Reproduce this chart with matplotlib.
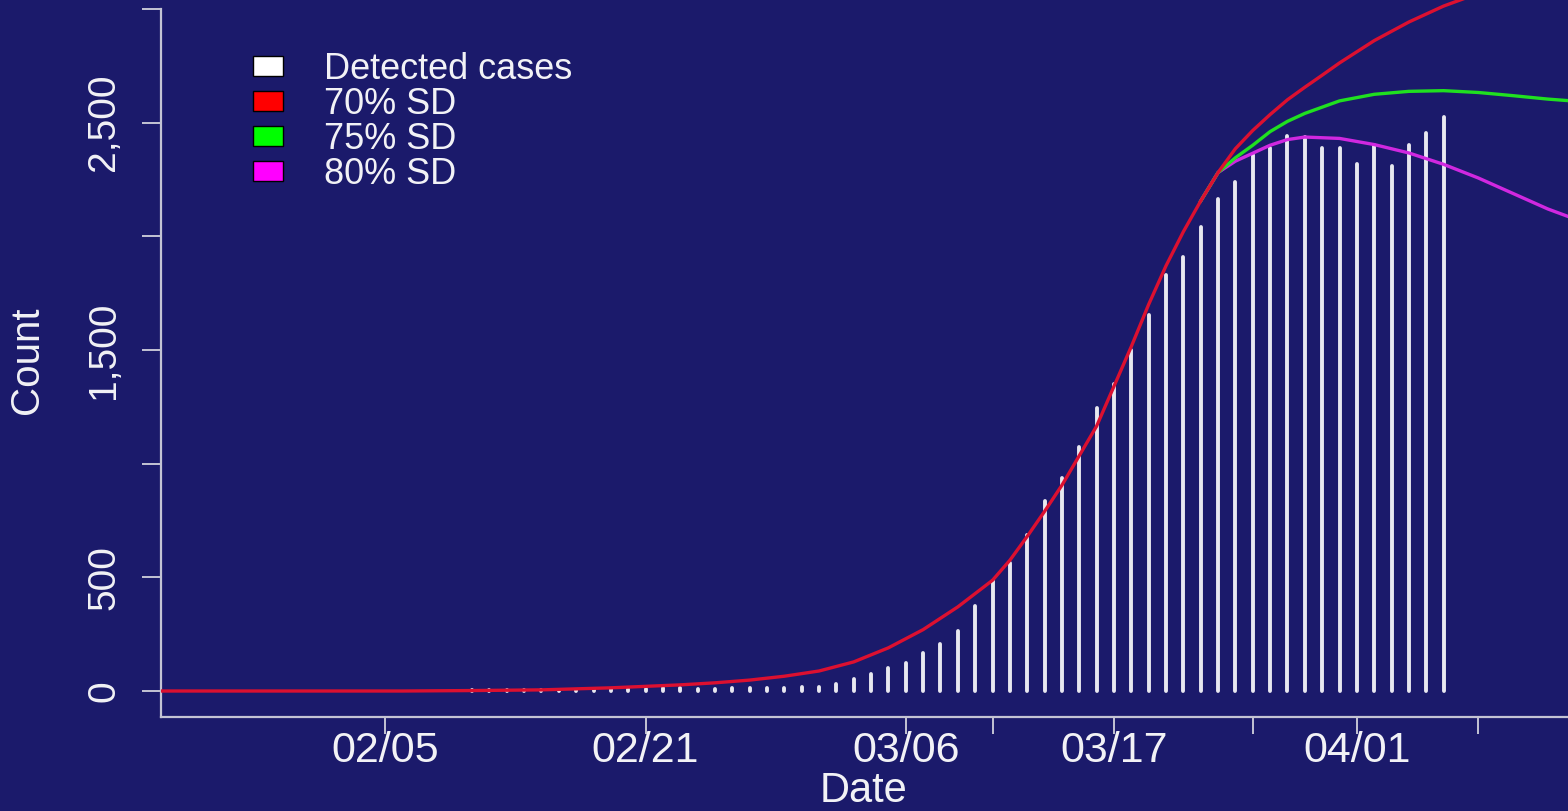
import matplotlib
matplotlib.use("Agg")
from matplotlib import pyplot as plt
from matplotlib.patches import Patch

plt.rcParams['font.family'] = ['Liberation Sans', 'DejaVu Sans']

# day index of each bar (0 = first detected day in the plot)
bar_days = list(range(0, 57))
detected = [4, 4, 4, 4, 4, 4, 5, 5, 8, 8,
            8, 12, 14, 8, 8, 14, 14, 12, 12, 17,
            17, 30, 52, 73, 100, 125, 165, 205, 265, 375,
            485, 565, 685, 835, 935, 1075, 1245, 1350, 1500, 1655,
            1828, 1908, 2042, 2165, 2240, 2357, 2389, 2440, 2437, 2389,
            2389, 2316, 2399, 2309, 2402, 2452, 2525]

# 70% social distancing projection
sd70_days = [-18, -4, 0, 4, 8, 12, 14, 16, 18, 20, 22, 24, 26, 28, 30, 31, 32, 33, 34, 35,
             36, 37, 38, 39, 40, 41, 42, 43, 44, 45, 46, 47, 48, 49, 50, 52, 54, 56, 58, 60, 63.2]
sd70 = [0, 0, 2, 5, 14, 27, 36, 48, 65, 88, 128, 190, 270, 370, 487, 575, 680, 790, 905, 1035,
        1165, 1340, 1515, 1700, 1870, 2020, 2155, 2280, 2385, 2465, 2535, 2600, 2655, 2708, 2762,
        2860, 2942, 3012, 3068, 3115, 3180]

# 75% social distancing projection
sd75_days = [42, 43, 44, 45, 46, 47, 48, 50, 52, 54, 56, 58, 60, 62, 63.2]
sd75 = [2155, 2280, 2345, 2400, 2460, 2505, 2540, 2595, 2624, 2637, 2640, 2632, 2618, 2603, 2596]

# 80% social distancing projection
sd80_days = [42, 43, 44, 45, 46, 47, 48, 50, 52, 54, 56, 58, 60, 62, 63.2]
sd80 = [2155, 2280, 2330, 2365, 2400, 2425, 2436, 2430, 2403, 2366, 2316, 2256, 2188, 2120, 2086]

x_ticks = [-5, 10, 25, 30, 37, 45, 51, 58]
x_labels = ['02/05', '02/21', '03/06', '', '03/17', '', '04/01', '']
y_ticks = [0, 500, 1000, 1500, 2000, 2500, 3000]
y_labels = ['0', '500', '', '1,500', '', '2,500', '']

bg = '#1b1a6b'
fg = '#f2f2f6'
axcol = '#c4c4d4'

fig = plt.figure(figsize=(15.68, 8.11), dpi=100)
fig.patch.set_facecolor(bg)
ax = fig.add_axes([161 / 1568, 94 / 811, 1407 / 1568, 717 / 811])
ax.set_facecolor(bg)

# R-style type="h" bars: thick lines with round ends
ax.vlines(bar_days, 0, detected, color='#e8e8f0', linewidth=2.8, capstyle='round', zorder=2)
ax.plot(sd80_days, sd80, color='#d028e0', lw=2.4, zorder=3)
ax.plot(sd75_days, sd75, color='#20e020', lw=2.4, zorder=4)
ax.plot(sd70_days, sd70, color='#dc1030', lw=2.4, zorder=5)

ax.set_xlim(-17.93, 63.17)
ax.set_ylim(-114.3, 3038.7)

for s in ['top', 'right']:
    ax.spines[s].set_visible(False)
ax.spines['left'].set_bounds(-114.3, 3000)
for s in ['left', 'bottom']:
    ax.spines[s].set_color(axcol)
    ax.spines[s].set_linewidth(1.6)

ax.set_xticks(x_ticks)
ax.set_xticklabels(x_labels, fontsize=31, color=fg)
ax.set_yticks(y_ticks)
ax.set_yticklabels(y_labels, rotation=90, va='center', fontsize=28, color=fg)
ax.tick_params(axis='x', length=12, width=1.4, color=axcol, pad=-2.2)
ax.tick_params(axis='y', length=14, width=1.4, color=axcol, pad=14)

fig.text(864 / 1568, 1 - 801.5 / 811, 'Date', fontsize=30, color=fg, ha='center', va='baseline')
fig.text(27 / 1568, 1 - 360 / 811, 'Count', fontsize=29, color=fg, rotation=90,
         ha='center', va='center')

handles = [Patch(facecolor='white', edgecolor='black', lw=1, label='Detected cases'),
           Patch(facecolor='#ff0000', edgecolor='black', lw=1, label='70% SD'),
           Patch(facecolor='#00ff00', edgecolor='black', lw=1, label='75% SD'),
           Patch(facecolor='#ff00ff', edgecolor='black', lw=1, label='80% SD')]
leg = ax.legend(handles=handles, loc='upper left', bbox_to_anchor=(253 / 1568, 1 - 52 / 811),
                bbox_transform=fig.transFigure, frameon=False, fontsize=26,
                handlelength=0.82, handleheight=0.45, handletextpad=1.15,
                labelspacing=0.0, borderpad=0, borderaxespad=0)
for t in leg.get_texts():
    t.set_color(fg)

fig.savefig('out.png', dpi=100, facecolor=bg)
